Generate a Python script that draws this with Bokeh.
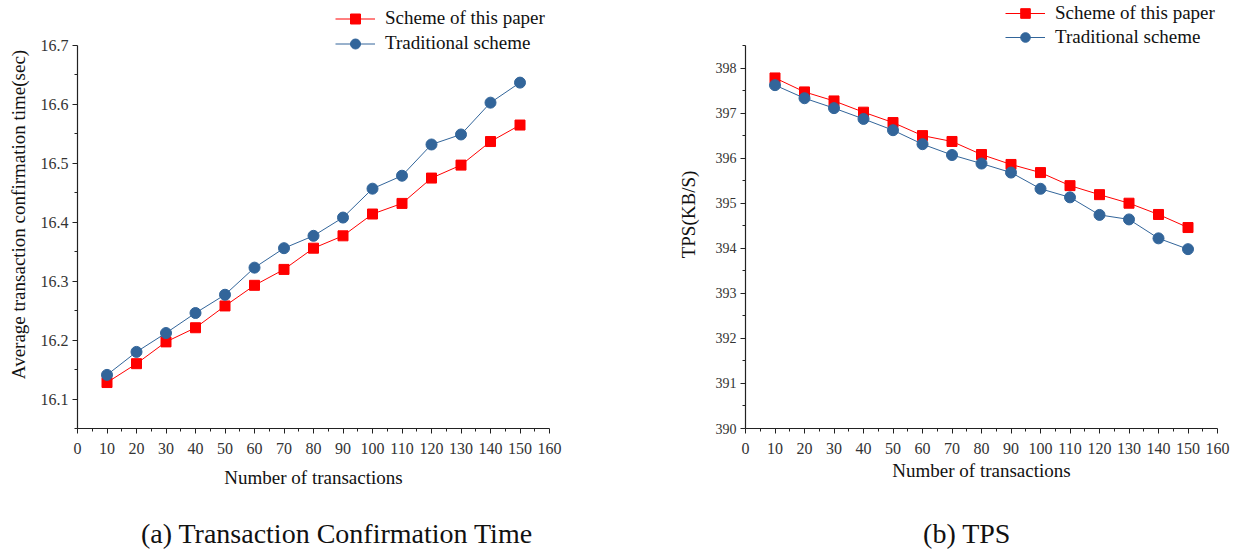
from bokeh.plotting import figure
from bokeh.layouts import row, column
from bokeh.models import FixedTicker, Legend, LegendItem, Label, Range1d
from bokeh.embed import file_html
from bokeh.resources import INLINE

# ---------------- data ----------------
num_tx = [10, 20, 30, 40, 50, 60, 70, 80, 90, 100, 110, 120, 130, 140, 150]

time_scheme = [16.128, 16.160, 16.197, 16.221, 16.258, 16.293, 16.320, 16.356,
               16.377, 16.414, 16.432, 16.475, 16.497, 16.537, 16.565]
time_trad = [16.141, 16.180, 16.212, 16.246, 16.277, 16.323, 16.356, 16.377,
             16.408, 16.457, 16.479, 16.532, 16.549, 16.603, 16.637]

tps_scheme = [397.78, 397.47, 397.27, 397.02, 396.79, 396.50, 396.37, 396.08,
              395.86, 395.68, 395.39, 395.19, 395.00, 394.75, 394.46]
tps_trad = [397.62, 397.33, 397.11, 396.87, 396.62, 396.31, 396.07, 395.88,
            395.68, 395.32, 395.13, 394.74, 394.64, 394.22, 393.98]

x_ticks = [0, 10, 20, 30, 40, 50, 60, 70, 80, 90, 100, 110, 120, 130, 140, 150, 160]
x_minor = [5, 15, 25, 35, 45, 55, 65, 75, 85, 95, 105, 115, 125, 135, 145, 155]
time_ticks = [16.1, 16.2, 16.3, 16.4, 16.5, 16.6, 16.7]
time_minor = [16.05, 16.15, 16.25, 16.35, 16.45, 16.55, 16.65]
tps_ticks = [390, 391, 392, 393, 394, 395, 396, 397, 398]
tps_minor = [390.5, 391.5, 392.5, 393.5, 394.5, 395.5, 396.5, 397.5, 398.5]

labels = ["Scheme of this paper", "Traditional scheme"]
captions = ["(a)  Transaction Confirmation Time", "(b)  TPS"]

RED = "#FF0000"
BLUE = "#32659A"
SERIF = "Liberation Serif"

AXIS_PX = 383      # pixel length of the drawn y axis
TOP_PX = 45        # room above the y axis for the legend
FRAME_H = AXIS_PX + TOP_PX
FIG_W = 624
FIG_H = 509
CAP_H = 40


def make_fig(yr, yt, ym, ylab, ytick_size, b_left, b_right, ylab_standoff,
             xlab_standoff, ys1, ys2, leg_loc, glyph_h):
    lo, hi = yr
    top = hi + (hi - lo) * TOP_PX / AXIS_PX
    p = figure(width=FIG_W, height=FIG_H, x_range=Range1d(0, 160), y_range=Range1d(lo, top),
               output_backend="svg", toolbar_location=None,
               min_border_left=b_left, min_border_right=b_right,
               min_border_top=0, min_border_bottom=FIG_H - FRAME_H)
    p.grid.visible = False
    p.outline_line_color = None
    p.background_fill_color = "white"
    p.border_fill_color = "white"

    p.xaxis.ticker = FixedTicker(ticks=x_ticks, minor_ticks=x_minor)
    p.yaxis.ticker = FixedTicker(ticks=yt, minor_ticks=ym)
    p.yaxis.bounds = (lo, hi)
    p.yaxis.major_label_overrides = {v: str(v) for v in yt}
    for ax in (p.xaxis[0], p.yaxis[0]):
        ax.axis_line_color = "#222222"
        ax.axis_line_width = 1.2
        ax.major_tick_line_color = "#222222"
        ax.minor_tick_line_color = "#222222"
        ax.major_tick_in = 0
        ax.major_tick_out = 5
        ax.minor_tick_in = 0
        ax.minor_tick_out = 3
        ax.major_label_text_font = SERIF
        ax.major_label_text_color = "#333333"
        ax.axis_label_text_font = SERIF
        ax.axis_label_text_font_style = "normal"
        ax.axis_label_text_font_size = "19px"
        ax.axis_label_text_color = "#111111"
    p.xaxis.major_label_text_font_size = "16px"
    p.yaxis.major_label_text_font_size = ytick_size
    p.xaxis.major_label_standoff = 9
    p.yaxis.major_label_standoff = 4
    p.xaxis.axis_label = "Number of transactions"
    p.yaxis.axis_label = ylab
    p.xaxis.axis_label_standoff = xlab_standoff
    p.yaxis.axis_label_standoff = ylab_standoff

    l1 = p.line(num_tx, ys1, line_color=RED, line_width=1)
    s1 = p.scatter(num_tx, ys1, marker="square", size=10, fill_color=RED, line_color=RED)
    l2 = p.line(num_tx, ys2, line_color=BLUE, line_width=1)
    s2 = p.scatter(num_tx, ys2, marker="circle", size=11, fill_color=BLUE, line_color=BLUE)

    legend = Legend(items=[LegendItem(label=labels[0], renderers=[l1, s1]),
                           LegendItem(label=labels[1], renderers=[l2, s2])],
                    location=leg_loc, orientation="vertical", padding=0, margin=0,
                    border_line_color=None, background_fill_alpha=0,
                    glyph_width=40, glyph_height=glyph_h, label_standoff=10,
                    spacing=0, label_height=glyph_h,
                    label_text_font=SERIF, label_text_font_size="19px",
                    label_text_color="#111111")
    p.add_layout(legend)
    return p


def make_caption(text, cx):
    # the caption figure's frame is aligned with the chart frame above it,
    # so cx is measured from the chart's y axis
    c = figure(width=FIG_W, height=CAP_H, x_range=Range1d(0, 1), y_range=Range1d(0, 1),
               output_backend="svg", toolbar_location=None, min_border=0)
    c.axis.visible = False
    c.grid.visible = False
    c.outline_line_color = None
    c.add_layout(Label(x=cx, y=16, x_units="screen", y_units="screen", text=text,
                       text_align="center", text_baseline="middle", text_font=SERIF,
                       text_font_size="28px", text_color="#111111"))
    return c


p1 = make_fig((16.05, 16.7), time_ticks, time_minor,
              "Average transaction confirmation time(sec)", "16px", 77, 75, 9, 10,
              time_scheme, time_trad, (258, 372.5), 25)
p2 = make_fig((390, 398.5), tps_ticks, tps_minor, "TPS(KB/S)", "14px", 121, 31, 14, 3,
              tps_scheme, tps_trad, (260, 379), 24)
c1 = make_caption(captions[0], 263)
c2 = make_caption(captions[1], 225)

layout = row(column(p1, c1), column(p2, c2))
open("out.html", "w").write(file_html(layout, INLINE))
